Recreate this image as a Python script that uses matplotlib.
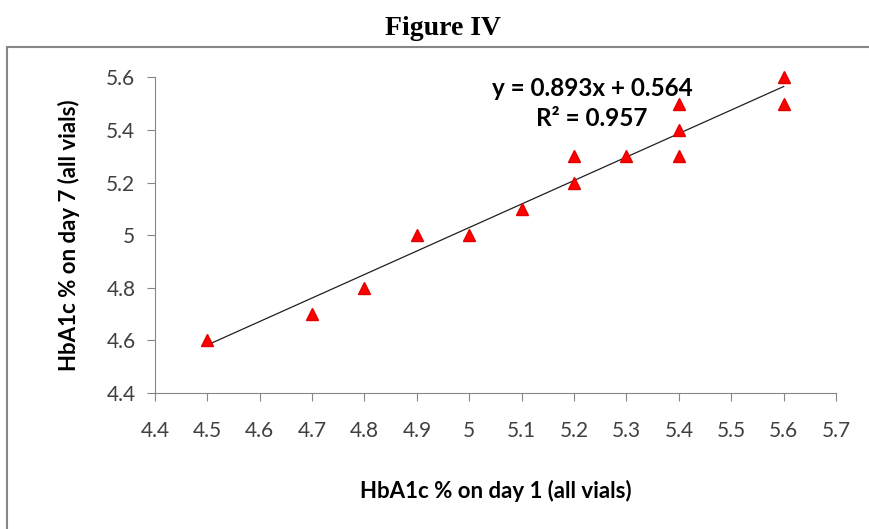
import matplotlib
matplotlib.use("Agg")
import matplotlib.pyplot as plt
from matplotlib.patches import Rectangle
import numpy as np

# data
day1 = [4.5, 4.7, 4.8, 4.9, 5.0, 5.1, 5.2, 5.2, 5.3, 5.4, 5.4, 5.4, 5.6, 5.6]
day7 = [4.6, 4.7, 4.8, 5.0, 5.0, 5.1, 5.3, 5.2, 5.3, 5.5, 5.4, 5.3, 5.6, 5.5]
slope, intercept, r2 = 0.893, 0.564, 0.957
xticks = [4.4, 4.5, 4.6, 4.7, 4.8, 4.9, 5.0, 5.1, 5.2, 5.3, 5.4, 5.5, 5.6, 5.7]
yticks = [4.4, 4.6, 4.8, 5.0, 5.2, 5.4, 5.6]

plt.rcParams["font.family"] = ["Lato", "DejaVu Sans"]
fig = plt.figure(figsize=(8.7, 5.29), dpi=100)
fig.text(0.509, 0.947, "Figure IV", ha="center", va="center", fontsize=20,
         fontweight="bold", family="Liberation Serif")
fig.patches.append(Rectangle((0.008, -0.05), 1.05, 0.961, transform=fig.transFigure,
                             fill=False, edgecolor="#868686", lw=1.5, clip_on=False))

ax = fig.add_axes([0.178, 0.257, 0.783, 0.597])
ax.plot(day1, day7, ls="none", marker="^", ms=9, color="#ff0000",
        markeredgecolor="#e00000", clip_on=False, zorder=3)
xl = np.array([min(day1), max(day1)])
ax.plot(xl, slope * xl + intercept, color="#202020", lw=0.9, zorder=2)

ax.set_xlim(4.4, 5.7); ax.set_ylim(4.4, 5.6)
ax.set_xticks(xticks); ax.set_xticklabels([f"{t:g}" for t in xticks])
ax.set_yticks(yticks); ax.set_yticklabels([f"{t:g}" for t in yticks])
for s in ["top", "right"]:
    ax.spines[s].set_visible(False)
for s in ["left", "bottom"]:
    ax.spines[s].set_color("#868686")
ax.tick_params(axis="both", colors="#868686", labelcolor="#404040", labelsize=15,
               length=6, direction="out")
ax.tick_params(axis="x", pad=14)
ax.tick_params(axis="y", pad=8)

ax.set_xlabel("HbA1c % on day 1 (all vials)", fontsize=16, fontweight="bold", labelpad=28)
ax.set_ylabel("HbA1c % on day 7 (all vials)", fontsize=16, fontweight="bold", labelpad=19)

ax.text(0.642, 0.965, f"y = {slope}x + {intercept}", transform=ax.transAxes,
        ha="center", va="center", fontsize=17.5, fontweight="bold")
ax.text(0.642, 0.87, f"R² = {r2}", transform=ax.transAxes,
        ha="center", va="center", fontsize=17.5, fontweight="bold")

fig.savefig("out.png", dpi=100)
